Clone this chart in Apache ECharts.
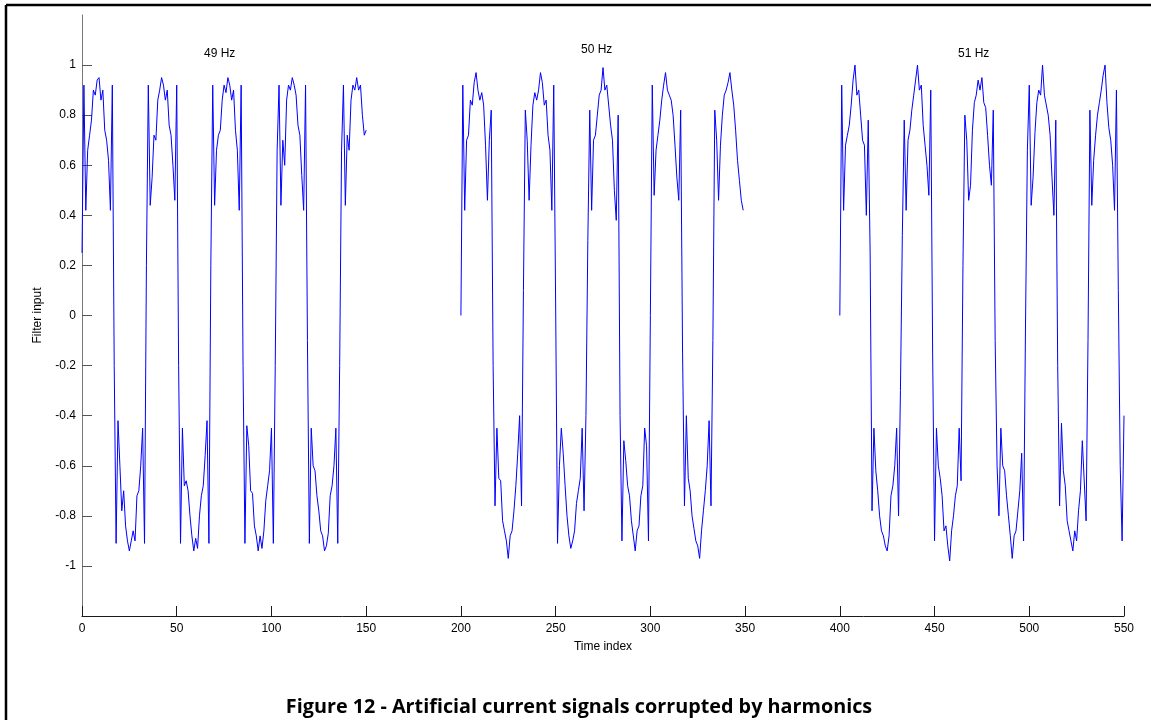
<!DOCTYPE html>
<html><head><meta charset="utf-8">
<script src="https://cdn.jsdelivr.net/npm/echarts@6/dist/echarts.min.js"></script>
<style>html,body{margin:0;padding:0;background:#fff}#c{width:1151px;height:720px}</style>
</head><body><div id="c"></div>
<script>
// ---- data ----
const xTicks = [0, 50, 100, 150, 200, 250, 300, 350, 400, 450, 500, 550];
const yTicks = [-1, -0.8, -0.6, -0.4, -0.2, 0, 0.2, 0.4, 0.6, 0.8, 1];
const segStarts = [0, 200, 400];
const segLabels = ['49 Hz', '50 Hz', '51 Hz'];
const figCaption = 'Figure 12 - Artificial current signals corrupted by harmonics';
const xName = 'Time index';
const yName = 'Filter input';

const sig49 = [
 0.25,0.92,0.42,0.66,0.72,0.78,0.90,0.88,0.94,0.95,0.86,0.90,0.74,0.70,0.62,0.42,0.92,
 -0.20,-0.91,-0.42,-0.60,-0.78,-0.70,-0.84,-0.90,-0.94,-0.90,-0.86,-0.90,-0.72,-0.70,-0.60,-0.45,-0.91,
 0.20,0.92,0.44,0.55,0.72,0.70,0.86,0.90,0.95,0.92,0.86,0.90,0.76,0.72,0.60,0.46,0.92,
 -0.20,-0.91,-0.45,-0.68,-0.66,-0.70,-0.80,-0.88,-0.94,-0.89,-0.93,-0.80,-0.72,-0.68,-0.56,-0.42,-0.91,
 0.20,0.92,0.44,0.66,0.72,0.74,0.86,0.92,0.89,0.95,0.92,0.86,0.90,0.74,0.66,0.42,0.92,
 -0.20,-0.91,-0.44,-0.52,-0.70,-0.71,-0.84,-0.88,-0.94,-0.88,-0.93,-0.86,-0.74,-0.68,-0.62,-0.45,-0.91,
 -0.20,0.66,0.92,0.44,0.70,0.60,0.86,0.92,0.90,0.95,0.92,0.88,0.76,0.72,0.56,0.42,0.92,
 -0.10,-0.91,-0.45,-0.60,-0.62,-0.72,-0.78,-0.86,-0.88,-0.94,-0.92,-0.87,-0.72,-0.68,-0.60,-0.45,-0.91,
 -0.20,0.66,0.92,0.44,0.72,0.66,0.86,0.92,0.90,0.95,0.90,0.92,0.80,0.72,0.74
];
const sig50 = [
 0.00,0.92,0.42,0.70,0.72,0.86,0.84,0.93,0.97,0.90,0.86,0.89,0.84,0.68,0.46,0.70,0.82,
 -0.20,-0.76,-0.45,-0.65,-0.66,-0.82,-0.86,-0.90,-0.97,-0.88,-0.86,-0.78,-0.68,-0.55,-0.40,-0.76,0.10,
 0.82,0.70,0.46,0.68,0.84,0.89,0.86,0.90,0.97,0.93,0.84,0.86,0.72,0.66,0.42,0.92,0.05,
 -0.91,-0.60,-0.45,-0.55,-0.68,-0.80,-0.88,-0.93,-0.90,-0.86,-0.75,-0.70,-0.65,-0.45,-0.78,-0.40,0.30,
 0.82,0.42,0.70,0.72,0.80,0.88,0.90,0.99,0.90,0.92,0.84,0.76,0.70,0.50,0.38,0.80,-0.40,
 -0.90,-0.50,-0.58,-0.68,-0.72,-0.82,-0.88,-0.94,-0.86,-0.84,-0.72,-0.68,-0.45,-0.52,-0.90,0.00,0.92,
 0.48,0.66,0.72,0.78,0.86,0.92,0.97,0.90,0.88,0.86,0.80,0.68,0.55,0.46,0.82,-0.15,-0.76,
 -0.40,-0.65,-0.70,-0.80,-0.85,-0.90,-0.92,-0.97,-0.86,-0.78,-0.70,-0.60,-0.42,-0.76,-0.10,0.82,0.70,
 0.46,0.68,0.80,0.88,0.90,0.93,0.97,0.90,0.84,0.74,0.62,0.54,0.46,0.42
];
const sig51 = [
 0.00,0.92,0.42,0.68,0.72,0.76,0.84,0.94,1.00,0.88,0.90,0.80,0.70,0.68,0.40,0.78,0.25,
 -0.78,-0.45,-0.62,-0.70,-0.80,-0.86,-0.88,-0.92,-0.94,-0.88,-0.72,-0.68,-0.60,-0.45,-0.80,-0.30,0.32,
 0.78,0.42,0.70,0.74,0.82,0.88,0.94,1.00,0.90,0.92,0.76,0.68,0.60,0.48,0.90,-0.15,-0.90,
 -0.45,-0.60,-0.65,-0.72,-0.86,-0.84,-0.92,-0.98,-0.86,-0.80,-0.72,-0.68,-0.45,-0.66,0.20,0.80,0.70,
 0.46,0.52,0.74,0.85,0.88,0.94,0.90,0.95,0.85,0.83,0.72,0.60,0.52,0.82,-0.10,-0.60,-0.80,
 -0.45,-0.60,-0.62,-0.72,-0.80,-0.88,-0.97,-0.88,-0.86,-0.78,-0.70,-0.55,-0.90,-0.05,0.66,0.92,0.44,
 0.55,0.73,0.85,0.90,0.88,1.00,0.88,0.88,0.80,0.72,0.55,0.40,0.78,-0.20,-0.76,-0.43,-0.62,
 -0.68,-0.82,-0.86,-0.90,-0.94,-0.86,-0.90,-0.78,-0.70,-0.50,-0.50,-0.82,-0.10,0.82,0.44,0.62,0.72,
 0.80,0.85,0.90,0.96,1.00,0.85,0.75,0.70,0.60,0.42,0.90,0.10,-0.60,-0.90,-0.40
];
const signals = [sig49, sig50, sig51];

// ---- chart ----
const FONT = 'Liberation Sans, Arial, sans-serif';
const chart = echarts.init(document.getElementById('c'), null, {renderer: 'canvas'});
const series = signals.map((sig, k) => ({
  type: 'line',
  name: segLabels[k],
  data: sig.map((v, i) => [segStarts[k] + i, v]),
  showSymbol: false,
  symbol: 'none',
  smooth: false,
  lineStyle: {color: '#0000ff', width: 1},
  itemStyle: {color: '#0000ff'},
  emphasis: {disabled: true},
  animation: false
}));

chart.setOption({
  animation: false,
  backgroundColor: '#ffffff',
  grid: {left: 82, right: 27, top: 15, bottom: 104, containLabel: false},
  xAxis: {
    type: 'value', min: 0, max: 550, interval: 50,
    name: xName, nameLocation: 'middle', nameGap: 25,
    nameTextStyle: {fontFamily: FONT, fontSize: 12, color: '#000'},
    axisLine: {show: true, onZero: false, lineStyle: {color: '#1a1a1a', width: 1}},
    axisTick: {show: true, inside: true, length: 10, lineStyle: {color: '#1a1a1a'}},
    axisLabel: {fontFamily: FONT, fontSize: 12, color: '#000', margin: 7,
      formatter: v => xTicks.includes(v) ? String(v) : ''},
    splitLine: {show: false}
  },
  yAxis: {
    type: 'value', min: -1.2, max: 1.2,
    name: yName, nameLocation: 'middle', nameGap: 38, nameRotate: 90,
    nameTextStyle: {fontFamily: FONT, fontSize: 12, color: '#000'},
    axisLine: {show: true, onZero: false, lineStyle: {color: '#777777', width: 1}},
    axisTick: {show: true, inside: true, length: 10, customValues: yTicks, lineStyle: {color: '#555555'}},
    axisLabel: {fontFamily: FONT, fontSize: 12, color: '#000', margin: 6, customValues: yTicks,
      formatter: v => String(Math.round(v * 10) / 10)},
    splitLine: {show: false}
  },
  series: series,
  graphic: [
    {type: 'line', shape: {x1: 6, y1: 5, x2: 1151, y2: 5}, style: {stroke: '#000', lineWidth: 2.5}, silent: true},
    {type: 'line', shape: {x1: 6, y1: 5, x2: 6, y2: 720}, style: {stroke: '#000', lineWidth: 2.5}, silent: true},
    {type: 'text', left: 204, top: 48, style: {text: segLabels[0], fontSize: 12, fontFamily: FONT, fill: '#000'}, silent: true},
    {type: 'text', left: 581, top: 44, style: {text: segLabels[1], fontSize: 12, fontFamily: FONT, fill: '#000'}, silent: true},
    {type: 'text', left: 958, top: 48, style: {text: segLabels[2], fontSize: 12, fontFamily: FONT, fill: '#000'}, silent: true},
    {type: 'text', x: 579, y: 707, style: {text: figCaption, fontSize: 19.8, fontWeight: 'bold', fontFamily: '"Open Sans", sans-serif', fill: '#000',
      align: 'center', verticalAlign: 'middle'}, silent: true}
  ]
});
</script></body></html>
